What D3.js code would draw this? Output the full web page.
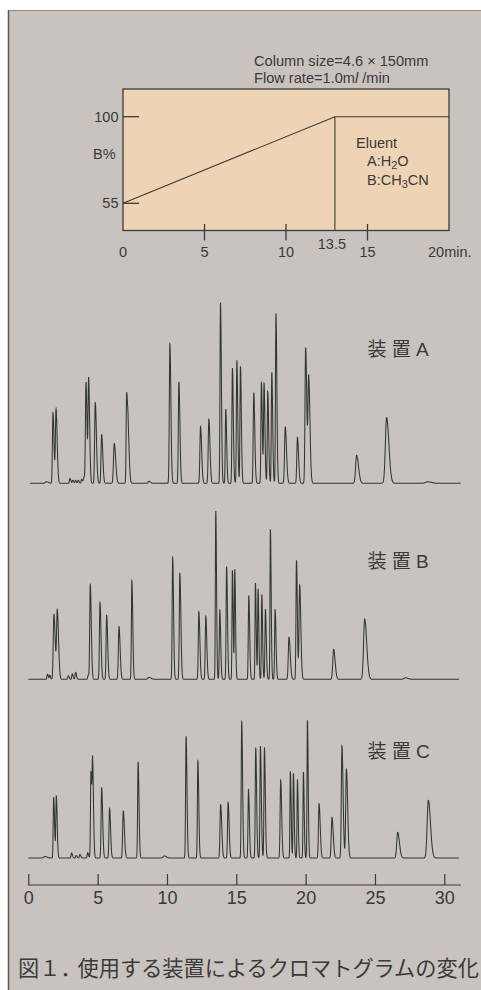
<!DOCTYPE html>
<html><head><meta charset="utf-8">
<script src="https://cdn.jsdelivr.net/npm/d3@7"></script>
<style>body{margin:0;background:#fff}svg{display:block}</style>
</head><body>
<svg id="c" width="481" height="990"></svg>
<script>
// ---- data ----
const gradientTime = [0, 13, 20];          // break drawn at ~13 min in the picture
const gradientB = [55, 100, 100];
const gradXTicks = [5, 10, 15];
const gradXLabelValues = [0, 5, 10, 15];
const gradXLabels = ["0", "5", "10", "15"];
const gradEndLabel = "20min.";
const gradBreakLabel = "13.5";
const gradYTicks = [100, 55];
const chromTicks = [0, 5, 10, 15, 20, 25, 30];
const instrumentLabels = ["装 置 A", "装 置 B", "装 置 C"];
const caption = "図１．使用する装置によるクロマトグラムの変化";

// peaks: [retention time (min), height, width (min)]
const peaksA = [
 [1.3,1.5,0.08],[1.78,70.7,0.04],[2.0,74,0.045],
 [3.0,5,0.035],[3.2,3,0.035],[3.4,3,0.035],[3.6,3,0.035],[3.85,4,0.04],[4.02,6,0.04],
 [4.16,100.3,0.04],[4.35,103,0.04],[4.83,80.7,0.045],[5.29,48.7,0.045],[6.2,39.7,0.055],
 [7.09,88,0.035],[7.2,46,0.045],[8.7,2,0.06],
 [10.21,139.3,0.04],[10.86,101.3,0.04],[12.42,57,0.045],[13.02,64,0.045],
 [13.86,180.7,0.035],[14.24,74,0.035],[14.72,115.3,0.035],[15.04,123,0.035],[15.3,117,0.035],
 [16.26,90.7,0.04],[16.81,100.7,0.035],[17.0,99.7,0.035],[17.27,92,0.035],[17.56,111,0.035],
 [17.86,169.7,0.035],[18.53,56.3,0.05],[19.41,46,0.045],[20.0,135.7,0.045],[20.22,105.3,0.05],
 [23.68,28,0.075],[25.84,65.7,0.09],[28.8,1.5,0.15]
];
const peaksB = [
 [1.38,5,0.035],[1.55,4,0.03],[1.85,65,0.05],[2.09,68,0.05],
 [2.88,3.5,0.035],[3.17,5.5,0.035],[3.41,7,0.035],[4.32,4,0.035],
 [4.47,94.7,0.04],[5.17,77,0.04],[5.65,64,0.04],[6.54,52.7,0.045],[7.47,98.7,0.035],[8.7,2,0.08],
 [10.41,122,0.035],[10.93,106,0.04],[12.3,67.7,0.04],[12.8,63,0.04],
 [13.52,168.3,0.03],[13.81,69.3,0.035],[14.3,112.7,0.035],[14.72,109,0.03],[14.89,109.3,0.03],
 [15.9,83.7,0.035],[16.38,96.3,0.03],[16.57,90.3,0.03],[16.84,84.7,0.03],[17.1,70.3,0.035],
 [17.46,150,0.03],[17.8,70,0.035],[18.8,42,0.05],[19.34,119,0.035],[19.57,94.3,0.045],
 [22.02,30,0.06],[24.26,60.3,0.08],[27.2,1.5,0.1]
];
const peaksC = [
 [1.2,1.5,0.08],[1.83,60.3,0.035],[2.02,61.7,0.035],
 [3.12,5,0.035],[3.45,2.5,0.035],[3.72,3.5,0.035],[4.28,5.3,0.035],
 [4.52,86,0.035],[4.64,87,0.035],[5.29,70,0.04],[5.86,49.7,0.04],[6.85,47,0.045],[7.92,96,0.035],
 [9.8,2,0.08],[11.38,121.7,0.035],[12.23,97.3,0.035],[13.87,53.3,0.045],[14.41,55.7,0.04],
 [15.39,136.3,0.035],[15.88,68,0.035],[16.4,110.3,0.035],[16.74,112,0.035],[17.03,109.7,0.035],
 [18.2,77.7,0.04],[18.9,86.7,0.03],[19.12,84.7,0.03],[19.41,77.7,0.03],[19.84,86,0.03],
 [20.13,137.7,0.03],[20.97,54.3,0.045],[21.9,40.7,0.05],[22.62,112,0.045],[22.94,88.7,0.05],
 [26.64,25.7,0.07],[28.85,57.7,0.085]
];
const panels = [
  {peaks: peaksA, label: instrumentLabels[0], start: 0.12, end: 31.18, base: 483.3, labelY: 355.7},
  {peaks: peaksB, label: instrumentLabels[1], start: 0.0, end: 31.05, base: 679.3, labelY: 568.3},
  {peaks: peaksC, label: instrumentLabels[2], start: 0.0, end: 31.05, base: 858.0, labelY: 757.7}
];

// ---- drawing ----
const svg = d3.select("#c");
const ink = "#3a3a3a";
const latin = "'Liberation Sans', Arial, sans-serif";
const cjk = "'Liberation Sans', 'Noto Sans CJK JP', sans-serif";

svg.append("rect").attr("x", 8.5).attr("y", 10.5).attr("width", 480).attr("height", 990).attr("fill", "#c8c3bf");
svg.append("line").attr("x1", 8.5).attr("x2", 481).attr("y1", 10.5).attr("y2", 10.5).attr("stroke", "#8e8c8a").attr("stroke-width", 1);
svg.append("line").attr("x1", 8.5).attr("x2", 8.5).attr("y1", 10).attr("y2", 990).attr("stroke", "#5a5856").attr("stroke-width", 1.5);

// gradient panel
const gx = d3.scaleLinear().domain([0, 20]).range([123, 449]);
const gy = d3.scaleLinear().domain([55, 100]).range([203.3, 116.7]);
const boxTop = 89, boxBottom = 230.5;
const g = svg.append("g");
g.append("rect").attr("x", gx(0)).attr("y", boxTop).attr("width", gx(20) - gx(0)).attr("height", boxBottom - boxTop)
  .attr("fill", "#eed3b4").attr("stroke", "#3c3c3a").attr("stroke-width", 1.3);
const gpts = gradientTime.map((t, i) => [t, gradientB[i]]);
g.append("path").attr("d", d3.line().x(d => gx(d[0])).y(d => gy(d[1]))(gpts))
  .attr("fill", "none").attr("stroke", "#3a3a38").attr("stroke-width", 1.1);
g.append("line").attr("x1", gx(gradientTime[1])).attr("x2", gx(gradientTime[1]))
  .attr("y1", gy(100)).attr("y2", boxBottom).attr("stroke", "#3a3a38").attr("stroke-width", 1.1);
gradYTicks.forEach(v => {
  g.append("line").attr("x1", gx(0)).attr("x2", gx(0) + 16).attr("y1", gy(v)).attr("y2", gy(v))
    .attr("stroke", "#3a3a38").attr("stroke-width", 1.3);
  g.append("text").attr("x", 118.5).attr("y", gy(v) + 5).attr("text-anchor", "end")
    .attr("font-family", latin).attr("font-size", 14.5).attr("fill", ink).text(String(v));
});
g.append("text").attr("x", 93).attr("y", 159.3).attr("font-family", latin).attr("font-size", 14.5).attr("fill", ink).text("B%");
gradXTicks.forEach(v => {
  g.append("line").attr("x1", gx(v)).attr("x2", gx(v)).attr("y1", 224).attr("y2", 240.5)
    .attr("stroke", "#3a3a38").attr("stroke-width", 1.3);
});
gradXLabelValues.forEach((v, i) => {
  g.append("text").attr("x", gx(v)).attr("y", 257.3).attr("text-anchor", "middle")
    .attr("font-family", latin).attr("font-size", 14.5).attr("fill", ink).text(gradXLabels[i]);
});
g.append("text").attr("x", gx(20) - 21).attr("y", 257.3).attr("font-family", latin).attr("font-size", 14.5).attr("fill", ink).text(gradEndLabel);
g.append("text").attr("x", gx(gradientTime[1]) - 3).attr("y", 248.5).attr("text-anchor", "middle")
  .attr("font-family", latin).attr("font-size", 14.5).attr("fill", ink).text(gradBreakLabel);

const t1 = g.append("text").attr("x", 254).attr("y", 66).attr("font-family", latin).attr("font-size", 14.6).attr("fill", ink);
t1.text("Column size=4.6 × 150mm");
const t2 = g.append("text").attr("x", 254).attr("y", 83.3).attr("font-family", latin).attr("font-size", 14.6).attr("fill", ink);
t2.append("tspan").text("Flow rate=1.0m");
t2.append("tspan").attr("font-style", "italic").text("l");
t2.append("tspan").text(" /min");

g.append("text").attr("x", 356).attr("y", 148).attr("font-family", latin).attr("font-size", 14.5).attr("fill", ink).text("Eluent");
const e1 = g.append("text").attr("x", 367).attr("y", 166).attr("font-family", latin).attr("font-size", 14.5).attr("fill", ink);
e1.append("tspan").text("A:H");
e1.append("tspan").attr("font-size", 11).attr("dy", 3).text("2");
e1.append("tspan").attr("dy", -3).text("O");
const e2 = g.append("text").attr("x", 367).attr("y", 185).attr("font-family", latin).attr("font-size", 14.5).attr("fill", ink);
e2.append("tspan").text("B:CH");
e2.append("tspan").attr("font-size", 11).attr("dy", 3).text("3");
e2.append("tspan").attr("dy", -3).text("CN");

// chromatograms
const x = d3.scaleLinear().domain([0, 30]).range([28.3, 444.3]);
const tail = 1.8;
function signal(peaks, t) {
  let s = 0;
  for (const [tp, h, w] of peaks) {
    const sd = t < tp ? w : w * tail;
    const z = (t - tp) / sd;
    if (Math.abs(z) < 8) s += h * Math.exp(-0.5 * z * z);
  }
  return s;
}
panels.forEach(p => {
  const y = d3.scaleLinear().domain([0, 200]).range([p.base, p.base - 200]);
  let ts = d3.range(p.start, p.end, 0.004).concat(p.peaks.map(d => d[0])).concat([p.end]);
  ts.sort((a, b) => a - b);
  const pts = ts.map(t => [t, signal(p.peaks, t)]);
  svg.append("path").attr("d", d3.line().x(d => x(d[0])).y(d => y(d[1]))(pts))
    .attr("fill", "none").attr("stroke", "#323630").attr("stroke-width", 1.05).attr("stroke-linejoin", "miter");
  svg.append("text").attr("x", 367.5).attr("y", p.labelY).attr("font-family", cjk).attr("font-size", 19)
    .attr("fill", ink).text(p.label);
});

// time axis
const axisY = 885;
const ax = svg.append("g").attr("transform", `translate(0,${axisY})`)
  .call(d3.axisBottom(x).tickValues(chromTicks).tickSizeInner(-11).tickSizeOuter(0).tickPadding(6).tickFormat(d3.format("d")));
ax.select(".domain").remove();
ax.selectAll(".tick line").attr("stroke", "#3a3a38").attr("stroke-width", 1.2);
ax.selectAll(".tick text").attr("font-family", latin).attr("font-size", 18).attr("fill", ink).attr("dy", "0.72em");
svg.append("line").attr("x1", x(0)).attr("x2", 461).attr("y1", axisY).attr("y2", axisY).attr("stroke", "#3a3a38").attr("stroke-width", 1.2);

// caption
const cap = svg.append("text").attr("x", 18).attr("y", 976).attr("font-family", "'Noto Sans CJK JP', sans-serif")
  .attr("font-size", 21.2).attr("fill", ink);
cap.append("tspan").text(caption.slice(0, 3));
cap.append("tspan").attr("dx", -4).text(caption.slice(3));
</script>
</body></html>
